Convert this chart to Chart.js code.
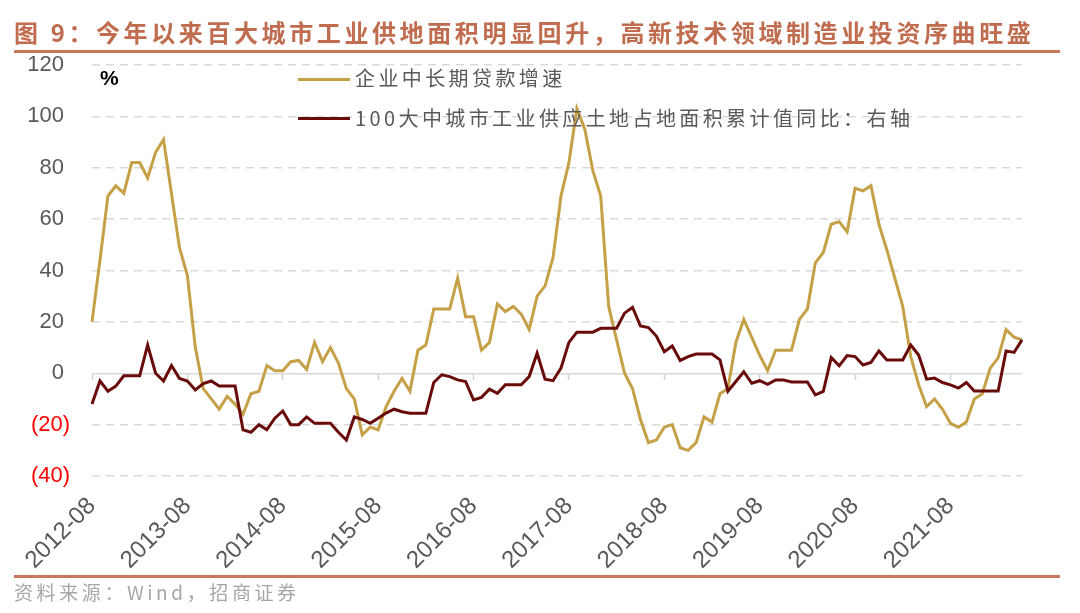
<!DOCTYPE html>
<html>
<head>
<meta charset="utf-8">
<script src="https://cdn.jsdelivr.net/npm/chart.js@4"></script>
<style>
  body { margin: 0; background: #fff; }
  #wrap { position: relative; width: 1080px; height: 613px; overflow: hidden; font-family: "Noto Sans CJK SC", sans-serif; }
  #c { position: absolute; left: 0; top: 0; }
  .ov { position: absolute; white-space: nowrap; }
  #title { left: 14px; top: 14px; font-size: 24px; letter-spacing: 3.6px; color: #C06C4E; font-weight: 700; line-height: 36px; }
  .rule { position: absolute; left: 14px; width: 1046px; height: 3px; background: #C8765C; }
  #source { left: 14px; top: 578px; font-size: 19px; letter-spacing: 3.6px; color: #A6A6A6; line-height: 28px; }
  #pct { left: 100px; top: 66px; font: bold 21px "Liberation Sans", Arial, sans-serif; color: #000; }
  .lg-line { position: absolute; left: 298px; width: 52px; height: 3px; }
  .lg-text { left: 355px; font-size: 20px; letter-spacing: 3.4px; color: #595959; line-height: 28px; }
</style>
</head>
<body>
<div id="wrap">
  <canvas id="c" width="1080" height="613"></canvas>
  <div class="ov" id="title">图 9：今年以来百大城市工业供地面积明显回升，高新技术领域制造业投资序曲旺盛</div>
  <div class="rule" style="top:50px"></div>
  <div class="ov" id="pct">%</div>
  <div class="lg-line" style="top:78px; background:#C6A046"></div>
  <div class="ov lg-text" style="top:64px">企业中长期贷款增速</div>
  <div class="lg-line" style="top:117px; background:#6A0B0B"></div>
  <div class="ov lg-text" style="top:104px">100大中城市工业供应土地占地面积累计值同比：右轴</div>
  <div class="rule" style="top:575px"></div>
  <div class="ov" id="source">资料来源：Wind，招商证券</div>
</div>
<script>
// months 2012-08 .. 2022-05
const months = [];
for (let y = 2012, m = 8; months.length < 118; m++) {
  if (m > 12) { m = 1; y++; }
  months.push(y + '-' + String(m).padStart(2, '0'));
}

// 企业中长期贷款增速
const loanGrowth = [
  20, 44, 69, 73, 70, 82, 82, 76, 86, 91, 70, 49, 38, 10, -6, -10, -14, -9, -12, -16,
  -8, -7, 3, 1, 1, 4.5, 5, 1.5, 12, 4.5, 10, 4, -6, -10, -24, -21, -22, -13, -7,
  -2, -7, 9, 11, 25, 25, 25, 37, 22, 22, 9, 12, 27, 24, 26, 23, 17, 30, 34, 45,
  69, 82, 103, 95, 79, 69, 26, 13, 0, -6, -18, -27, -26, -21, -20, -29, -30, -27, -17, -19,
  -8, -6, 12, 21, 14, 7, 1, 9, 9, 9, 21, 25, 43, 47, 58, 59, 55, 72, 71, 73,
  58, 48, 37, 26, 6.5, -4.5, -13, -10, -14, -19.5, -21, -19, -10, -8, 2, 6, 17, 14, 13
];

// 100大中城市工业供应土地占地面积累计值同比
const landSupply = [
  -12, -3, -7, -5, -1, -1, -1, 11, 0, -3, 3, -2, -3, -6.5, -4, -3, -5, -5, -5, -22,
  -23, -20, -22, -17.5, -14.7, -20, -20, -17, -19.5, -19.5, -19.5, -23, -26, -17, -18, -19.5, -17.5, -15.5, -14,
  -15, -15.6, -15.6, -15.6, -3.6, -0.6, -1.3, -2.6, -3.2, -10.4, -9.4, -6.2, -7.8, -4.5, -4.5, -4.5, -1.3, 7.8, -2.3, -2.9,
  2, 12, 16, 16, 16, 17.5, 17.5, 17.5, 23.4, 25.7, 18.4, 17.8, 14.5, 8.4, 10.6, 5, 6.5, 7.5, 7.5, 7.5,
  5.2, -7, -3.2, 0.6, -3.9, -2.9, -4.3, -2.6, -2.6, -3.4, -3.4, -3.4, -8.4, -7.1, 6.1, 2.9, 6.9, 6.5, 3.2, 4.2,
  8.7, 5.2, 5.2, 5.2, 11, 7.1, -2.3, -1.9, -3.6, -4.5, -5.8, -3.6, -6.9, -6.9, -6.9, -6.9, 8.7, 8.1, 13
];

const yTicks = [-40, -20, 0, 20, 40, 60, 80, 100, 120];

const chart = new Chart(document.getElementById('c'), {
  type: 'line',
  data: {
    labels: months,
    datasets: [
      {
        label: '企业中长期贷款增速',
        data: loanGrowth,
        borderColor: '#C6A046',
        borderWidth: 3,
        pointRadius: 0,
        tension: 0,
        order: 1
      },
      {
        label: '100大中城市工业供应土地占地面积累计值同比：右轴',
        data: landSupply,
        borderColor: '#6A0B0B',
        borderWidth: 3,
        pointRadius: 0,
        tension: 0,
        order: 0
      }
    ]
  },
  options: {
    responsive: false,
    animation: false,
    layout: { padding: { left: 10, right: 58, top: 65, bottom: 37 } },
    plugins: { legend: { display: false }, tooltip: { enabled: false } },
    scales: {
      x: {
        grid: { display: false },
        border: { display: false },
        ticks: {
          autoSkip: false,
          minRotation: 45,
          maxRotation: 45,
          padding: 8,
          color: '#595959',
          font: { family: 'Liberation Sans', size: 24 },
          callback: (v, i) => (i % 12 === 0 ? months[i] : '')
        },
        afterFit: (s) => { s.height = 100; }
      },
      xz: {
        type: 'category',
        position: { y: 0 },
        grid: {
          drawOnChartArea: false,
          drawTicks: true,
          tickLength: 7,
          tickWidth: 1.5,
          tickColor: (ctx) => (ctx.index % 12 === 0 ? '#D0D0D0' : 'rgba(0,0,0,0)')
        },
        border: { display: false },
        ticks: { display: false, autoSkip: false }
      },
      y: {
        min: -40,
        max: 120,
        afterBuildTicks: (s) => { s.ticks = yTicks.map(v => ({ value: v })); },
        grid: {
          drawTicks: false,
          color: '#D9D9D9',
          lineWidth: 1.5
        },
        border: {
          display: false,
          dash: (ctx) => (ctx.tick && ctx.tick.value === 0 ? [] : [8, 6])
        },
        ticks: {
          padding: 22,
          font: { family: 'Liberation Sans', size: 22 },
          color: (ctx) => (ctx.tick.value < 0 ? '#FF0000' : '#595959'),
          callback: (v) => (v < 0 ? '(' + (-v) + ')' : v + ' ')
        },
        afterFit: (s) => { s.width = 82; }
      }
    }
  }
});
</script>
</body>
</html>
